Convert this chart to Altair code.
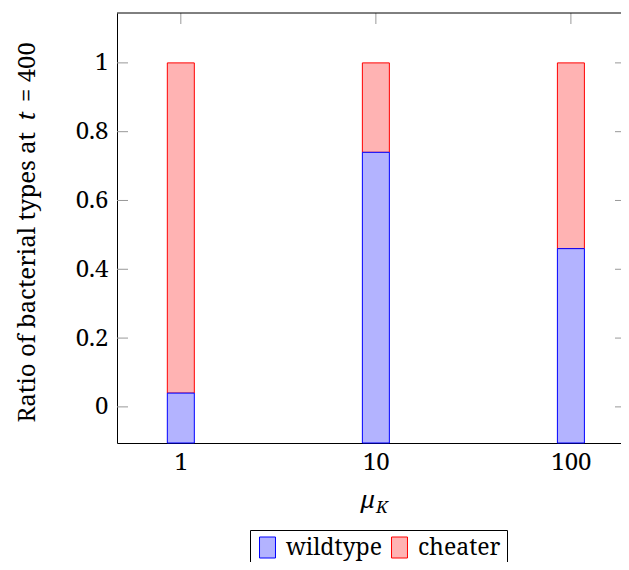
import altair as alt
import pandas as pd

# ---- data ----
mu = [1, 10, 100]
wildtype = [0.04, 0.74, 0.46]
cheater = [0.96, 0.26, 0.54]
types = ["wildtype", "cheater"]
y_ticks = [0, 0.2, 0.4, 0.6, 0.8, 1]
title_parts = ["Ratio of bacterial types at", "t", "= 400"]

# ---- style ----
FONT = "Noto Serif"
FS = 24
TFS = 24
LFS = 23
fills = ["#b3b3ff", "#ffb3b3"]
strokes = ["#0000ff", "#ff0000"]
TICK = "#999999"
W, H = 504, 430
Y_MIN, Y_MAX = -0.105, 1.145
X_MIN, X_MAX = 0.4994, 170.3

rows = []
for m, w, c in zip(mu, wildtype, cheater):
    rows.append({"mu": m, "type": "cheater", "lo": w, "hi": w + c})
    rows.append({"mu": m, "type": "wildtype", "lo": Y_MIN, "hi": w})
bars_df = pd.DataFrame(rows)

xscale = alt.Scale(type="log", domain=[X_MIN, X_MAX], nice=False)
yscale = alt.Scale(domain=[Y_MIN, Y_MAX], nice=False, zero=False)
xaxis = alt.Axis(values=mu, format="~g", ticks=False, grid=False, title=None,
                 labelPadding=7, labelFlush=False, labelFont=FONT, labelFontSize=FS,
                 labelColor="black", domainColor="black", domainWidth=1)
yaxis = alt.Axis(values=y_ticks, format="~g", ticks=False, grid=False, title=None,
                 labelPadding=9, labelFont=FONT, labelFontSize=FS,
                 labelColor="black", domainColor="black", domainWidth=1)

legend = alt.Legend(
    title=None, orient="none", legendX=133, legendY=517, direction="horizontal",
    symbolType="M-0.76,-1L0.76,-1L0.76,1L-0.76,1Z", symbolSize=441,
    symbolStrokeWidth=1, labelFont=FONT, labelFontSize=LFS, labelColor="black",
    labelOffset=7, columnPadding=6, padding=6, strokeColor="black",
)

bars = alt.Chart(bars_df).mark_bar(size=27, strokeWidth=1, opacity=1).encode(
    x=alt.X("mu:Q", scale=xscale, axis=xaxis),
    y=alt.Y("lo:Q", scale=yscale, axis=yaxis),
    y2="hi:Q",
    fill=alt.Fill("type:N", scale=alt.Scale(domain=types, range=fills), legend=legend),
    stroke=alt.Stroke("type:N", scale=alt.Scale(domain=types, range=strokes), legend=legend),
)

ytick_df = pd.DataFrame({"lo": y_ticks})
left_ticks = alt.Chart(ytick_df).mark_rule(color=TICK, strokeWidth=1).encode(
    y=alt.Y("lo:Q", scale=yscale, axis=yaxis), x=alt.value(0), x2=alt.value(11))
right_ticks = alt.Chart(ytick_df).mark_rule(color=TICK, strokeWidth=1).encode(
    y=alt.Y("lo:Q", scale=yscale, axis=yaxis), x=alt.value(W - 6), x2=alt.value(W))
top_ticks = alt.Chart(pd.DataFrame({"mu": mu})).mark_rule(color=TICK, strokeWidth=1).encode(
    x=alt.X("mu:Q", scale=xscale, axis=xaxis), y=alt.value(0), y2=alt.value(11))
top_border = alt.Chart(pd.DataFrame({"v": [0]})).mark_rule(color="black", strokeWidth=1).encode(
    x=alt.value(0), x2=alt.value(W), y=alt.value(0))

# y title in three pieces (t italic)
TX = -82
t_a = alt.Chart(pd.DataFrame({"s": [title_parts[0]]})).mark_text(
    font=FONT, fontSize=TFS, angle=270, align="right", baseline="alphabetic", color="black"
).encode(text="s:N", x=alt.value(TX), y=alt.value(119))
t_b = alt.Chart(pd.DataFrame({"s": [title_parts[1]]})).mark_text(
    font=FONT, fontSize=TFS, fontStyle="italic", angle=270, align="center",
    baseline="alphabetic", color="black"
).encode(text="s:N", x=alt.value(TX), y=alt.value(103))
t_c = alt.Chart(pd.DataFrame({"s": [title_parts[2]]})).mark_text(
    font=FONT, fontSize=TFS, angle=270, align="left", baseline="alphabetic", color="black"
).encode(text="s:N", x=alt.value(TX), y=alt.value(89))

# x title mu_K
x_mu = alt.Chart(pd.DataFrame({"s": ["μ"]})).mark_text(
    font=FONT, fontSize=FS, fontStyle="italic", align="left", baseline="alphabetic", color="black"
).encode(text="s:N", x=alt.value(244), y=alt.value(495))
x_k = alt.Chart(pd.DataFrame({"s": ["K"]})).mark_text(
    font=FONT, fontSize=17, fontStyle="italic", align="left", baseline="alphabetic", color="black"
).encode(text="s:N", x=alt.value(259), y=alt.value(500))

chart = alt.layer(
    left_ticks, right_ticks, top_ticks, bars, top_border, t_a, t_b, t_c, x_mu, x_k
).properties(
    width=W, height=H,
    autosize=alt.AutoSizeParams(type="none"),
    padding={"left": 109, "top": 5, "right": 0, "bottom": 119},
    view=alt.ViewBackground(stroke=None),
)

chart.save("out.html", embed_options={"renderer": "svg", "actions": False})
